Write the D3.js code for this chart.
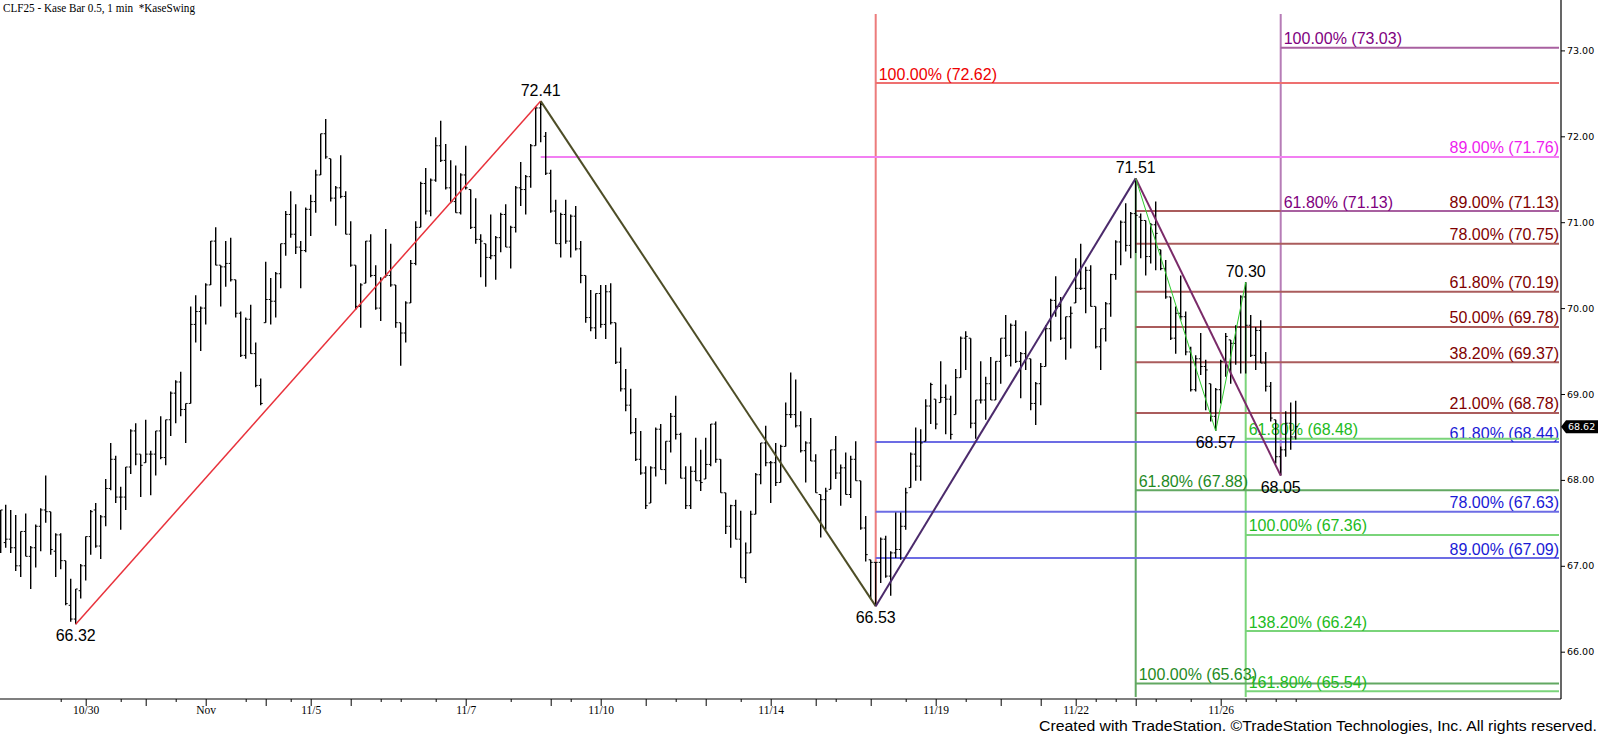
<!DOCTYPE html>
<html>
<head>
<meta charset="utf-8">
<script src="https://cdn.jsdelivr.net/npm/d3@7"></script>
<style>
  html, body { margin: 0; padding: 0; background: #fff; }
  svg { display: block; }
</style>
</head>
<body>
<svg id="chart"></svg>
<script>
// one entry per Kase bar, bar 1 is the leftmost
const highs = [
  67.65,67.71,67.65,67.59,67.40,67.61,67.23,67.48,67.67,68.05,67.63,67.38,67.38,67.06,66.85,66.73,67.02,67.34,67.65,67.73,
  67.59,68.01,68.43,68.28,67.92,68.15,68.59,68.66,68.30,68.70,68.34,68.57,68.74,68.70,69.03,69.16,69.26,68.89,70.02,70.15,
  70.02,70.29,70.78,70.94,70.50,70.78,70.82,70.33,69.96,69.89,70.04,69.60,69.18,70.54,70.35,70.42,70.75,71.13,71.36,71.21,
  70.78,71.17,71.32,71.61,72.03,72.20,71.74,71.42,71.78,71.36,71.01,70.50,70.29,70.78,70.86,70.50,70.36,70.92,70.75,70.27,
  69.83,70.08,70.56,71.01,71.47,71.63,71.51,71.99,72.18,71.91,71.72,71.66,71.57,71.89,71.38,71.28,70.86,70.75,71.09,70.84,
  71.11,71.21,70.96,71.42,71.70,71.55,71.91,72.35,72.41,72.05,71.61,71.26,71.11,71.26,71.09,71.19,70.78,70.38,70.21,70.17,
  70.27,70.27,70.29,69.83,69.54,69.29,69.06,68.72,68.57,68.16,68.16,68.61,68.65,68.45,68.78,68.98,68.55,68.16,68.16,68.49,
  68.35,68.49,68.65,68.68,68.24,67.85,67.71,67.77,67.64,67.27,67.64,68.08,68.43,68.63,68.22,68.43,68.41,68.90,69.25,69.17,
  68.80,68.45,68.72,68.30,67.83,67.91,68.35,68.51,68.18,68.32,68.28,68.45,67.99,67.58,67.07,67.04,67.33,67.35,67.17,67.62,
  67.62,67.91,68.32,68.61,68.59,68.94,69.13,68.94,69.38,69.11,68.98,69.29,69.67,69.73,69.65,68.93,69.38,69.20,69.43,69.38,
  69.65,69.92,69.82,69.86,69.49,69.73,69.41,69.14,69.36,69.80,70.11,70.37,70.13,69.90,70.02,70.58,70.75,70.48,70.50,70.02,
  69.76,70.07,70.40,70.79,71.02,71.22,71.12,71.51,71.10,71.02,70.99,71.24,70.68,70.56,70.13,70.02,70.38,69.96,69.55,69.45,
  69.71,69.40,69.12,69.07,69.40,69.71,69.63,69.80,70.15,70.30,69.92,69.78,69.86,69.49,69.14,68.70,68.39,68.80,68.90,68.92
];
const lows = [
  67.15,67.21,67.15,66.94,66.87,67.11,66.73,66.98,67.17,67.50,67.13,66.87,66.96,66.54,66.35,66.32,66.62,66.83,67.13,67.21,
  67.08,67.46,67.88,67.73,67.42,67.65,68.07,68.17,67.80,68.20,67.82,68.05,68.24,68.17,68.51,68.66,68.74,68.43,68.89,69.60,
  69.50,69.81,70.27,70.50,70.02,70.25,70.31,69.89,69.43,69.41,69.47,69.08,68.87,69.83,69.81,69.89,70.23,70.61,70.82,70.63,
  70.23,70.65,70.84,71.11,71.55,71.74,71.24,70.96,71.28,70.86,70.48,69.98,69.77,70.29,70.36,69.98,69.85,70.36,70.25,69.77,
  69.33,69.60,70.06,70.50,70.94,71.09,71.07,71.47,71.70,71.38,71.22,71.11,71.09,71.38,70.92,70.75,70.36,70.25,70.57,70.33,
  70.65,70.71,70.46,70.88,71.19,71.09,71.40,71.89,71.93,71.55,71.11,70.75,70.59,70.75,70.59,70.67,70.29,69.83,69.73,69.64,
  69.77,69.64,69.81,69.35,69.03,68.80,68.53,68.22,68.06,67.66,67.73,68.04,68.12,67.95,68.32,68.47,68.02,67.66,67.66,67.99,
  67.87,68.01,68.16,68.20,67.85,67.37,67.21,67.31,66.86,66.80,67.15,67.60,67.95,68.16,67.73,67.93,67.97,68.39,68.72,68.61,
  68.32,67.97,68.22,67.85,67.33,67.42,67.89,68.01,67.70,67.83,67.79,67.99,67.42,67.05,66.61,66.53,66.80,66.86,66.65,67.09,
  67.07,67.42,67.91,67.99,67.99,68.45,68.65,68.59,68.90,68.53,68.47,68.76,69.19,69.28,68.60,68.48,68.89,68.70,68.93,68.93,
  69.12,69.43,69.32,69.36,68.95,69.28,68.81,68.64,68.87,69.32,69.61,69.90,69.63,69.40,69.53,70.06,70.21,69.94,70.02,69.53,
  69.28,69.61,69.90,70.33,70.50,70.66,70.58,70.64,70.58,70.38,70.52,70.44,70.44,70.11,69.63,69.47,69.86,69.45,69.03,69.03,
  69.22,68.81,68.68,68.57,68.89,69.20,69.12,69.34,69.24,69.24,69.43,69.28,69.36,69.03,68.68,68.19,68.05,68.27,68.35,68.47
];
const opens = [
  67.50,67.27,67.31,67.21,67.00,67.40,67.11,67.21,67.46,67.65,67.63,67.17,67.36,67.06,66.54,66.38,66.71,67.00,67.34,67.65,
  67.23,67.57,67.90,68.24,67.80,67.80,68.15,68.57,68.30,68.20,68.30,68.30,68.57,68.26,68.70,69.01,69.14,68.82,68.89,69.81,
  69.96,70.00,70.27,70.78,70.50,70.48,70.52,70.33,69.94,69.45,69.87,69.47,69.10,69.83,70.10,70.08,70.40,70.75,71.09,70.86,
  70.71,70.67,71.15,71.24,71.55,72.03,71.74,71.28,71.40,71.30,70.86,70.50,70.02,70.29,70.78,70.38,70.00,70.36,70.38,70.27,
  69.83,69.71,70.06,70.52,70.94,71.45,71.13,71.49,71.89,71.72,71.40,71.24,71.11,71.55,71.38,70.94,70.80,70.75,70.59,70.61,
  70.82,71.09,70.71,70.94,71.40,71.38,71.53,71.89,72.33,72.00,71.57,71.13,70.75,71.09,70.78,71.07,70.69,70.38,69.89,69.77,
  70.17,69.81,70.19,69.83,69.37,69.06,68.87,68.55,68.24,68.08,67.73,68.14,68.59,68.12,68.45,68.74,68.53,68.02,67.70,68.10,
  67.99,68.01,68.18,68.65,68.24,67.85,67.46,67.70,67.31,66.86,67.15,67.60,68.06,68.43,68.20,68.20,67.97,68.39,68.76,68.76,
  68.63,68.34,68.43,68.22,67.83,67.77,67.89,68.35,68.08,68.14,67.83,68.24,67.99,67.44,67.07,67.04,67.04,67.31,66.88,67.15,
  67.19,67.46,67.91,68.30,68.16,68.45,68.86,68.94,68.90,68.96,68.94,68.76,69.19,69.65,69.65,68.66,68.93,68.93,69.12,68.93,
  69.38,69.65,69.45,69.80,69.38,69.47,69.41,68.89,69.12,69.32,69.76,70.09,70.02,69.65,69.90,70.06,70.23,70.23,70.44,70.02,
  69.55,69.76,70.05,70.39,70.77,71.00,70.73,71.10,71.06,71.02,70.60,70.97,70.68,70.46,70.13,69.65,69.94,69.90,69.49,69.05,
  69.41,69.32,69.12,68.74,69.05,69.38,69.63,69.59,69.78,70.13,69.80,69.45,69.74,69.36,69.09,68.70,68.27,68.35,68.66,68.50
];
const closes = [
  67.65,67.31,67.21,67.00,67.40,67.11,67.21,67.46,67.65,67.63,67.19,67.36,67.06,66.56,66.38,66.73,67.00,67.34,67.63,67.23,
  67.57,67.90,68.24,67.80,67.80,68.15,68.57,68.30,68.17,68.30,68.30,68.57,68.26,68.70,69.01,69.14,68.82,68.89,69.81,69.96,
  70.00,70.27,70.78,70.50,70.48,70.52,70.33,69.94,69.45,69.87,69.47,69.10,68.89,70.10,70.08,70.40,70.75,71.09,70.86,70.71,
  70.67,71.15,71.24,71.55,72.03,71.76,71.28,71.40,71.30,70.86,70.50,70.02,70.27,70.78,70.38,70.00,70.33,70.38,70.27,69.83,
  69.71,70.06,70.52,70.94,71.45,71.13,71.49,71.89,71.72,71.40,71.24,71.11,71.55,71.40,70.94,70.80,70.78,70.59,70.61,70.82,
  71.09,70.71,70.94,71.40,71.38,71.53,71.89,72.33,72.37,71.57,71.13,70.75,71.09,70.78,71.07,70.69,70.38,69.89,69.77,70.17,
  69.81,70.19,69.83,69.37,69.06,68.87,68.55,68.24,68.08,67.70,68.14,68.59,68.12,68.45,68.74,68.53,68.02,67.70,68.10,67.99,
  67.97,68.18,68.65,68.24,67.85,67.46,67.70,67.31,66.86,67.15,67.60,68.06,68.43,68.20,68.20,67.97,68.39,68.76,68.76,68.63,
  68.34,68.43,68.22,67.85,67.77,67.87,68.35,68.08,68.14,67.83,68.24,67.99,67.44,67.13,67.04,67.04,67.31,66.88,67.15,67.19,
  67.46,67.85,68.30,68.16,68.43,68.86,69.11,68.65,68.96,68.94,68.53,69.19,69.65,69.67,68.66,68.93,68.93,69.12,68.93,69.38,
  69.65,69.45,69.80,69.38,69.47,69.41,68.89,69.12,69.32,69.76,70.09,70.02,69.65,69.90,69.94,70.23,70.23,70.44,70.02,69.55,
  69.76,70.05,70.39,70.77,71.00,70.73,71.10,71.08,71.02,70.60,70.97,70.87,70.46,70.13,69.65,69.94,69.90,69.49,69.05,69.41,
  69.32,69.28,68.74,69.05,69.38,69.67,69.59,69.78,70.13,69.80,69.45,69.74,69.36,69.09,68.72,68.27,68.35,68.66,68.50,68.62
];

// KaseSwing turning points: bar number and whether it marks a high or a low
const swingBars = [16, 109, 176, 228, 244, 250, 257];
const swingSides = ["low", "high", "low", "high", "low", "high", "low"];
// legs drawn between swing points (indexes into swingBars)
const swingLegs = [[0, 1], [1, 2], [2, 3], [3, 6], [3, 4], [4, 5]];

// fib / projection levels: percent text and price
const redPct = ["100.00%"];
const redVal = [72.62];
const magentaPct = ["89.00%"];
const magentaVal = [71.76];
const brownPct = ["89.00%", "78.00%", "61.80%", "50.00%", "38.20%", "21.00%"];
const brownVal = [71.13, 70.75, 70.19, 69.78, 69.37, 68.78];
const bluePct = ["61.80%", "78.00%", "89.00%"];
const blueVal = [68.44, 67.63, 67.09];
const purplePct = ["100.00%", "61.80%"];
const purpleVal = [73.03, 71.13];
const darkGreenPct = ["61.80%", "100.00%"];
const darkGreenVal = [67.88, 65.63];
const lightGreenPct = ["61.80%", "100.00%", "138.20%", "161.80%"];
const lightGreenVal = [68.48, 67.36, 66.24, 65.54];

// time axis
const dateLabels = ["10/30", "Nov", "11/5", "11/7", "11/10", "11/14", "11/19", "11/22", "11/26"];
const dateBars = [18, 42, 63, 94, 121, 155, 188, 216, 245];
const sessionTickBars = [30, 54, 71, 111, 130, 142, 164, 175, 201, 209, 228];
const minorTickBars = [13, 25, 36, 50, 59, 77, 81, 88, 103, 115, 136, 149, 168, 182, 194, 220, 224, 232, 239, 250, 256, 260];
const priceTicks = [66, 67, 68, 69, 70, 71, 72, 73];

const W = 1600, H = 739;
const plotRight = 1561, plotBottom = 699, lineEnd = 1559;
const labelFont = "'Liberation Sans', Arial, sans-serif";

const svg = d3.select("#chart")
  .attr("width", W)
  .attr("height", H)
  .style("background", "#fff");

const x = d3.scaleLinear().domain([1, 260]).range([0.7, 0.7 + 259 * 5]);
const y = d3.scaleLinear().domain([66, 73]).range([651.7, 50.4]);

svg.append("defs").append("clipPath").attr("id", "plot")
  .append("rect").attr("x", 0).attr("y", 0).attr("width", plotRight).attr("height", plotBottom);

const plot = svg.append("g").attr("clip-path", "url(#plot)");

function swingPrice(i){
  const b = swingBars[i];
  return swingSides[i] === "high" ? highs[b - 1] : lows[b - 1];
}

// horizontal level lines + their texts
function levels(pcts, vals, fromBar, lineColor, textColor, align){
  const g = plot.append("g");
  g.selectAll("line")
    .data(vals)
    .join("line")
      .attr("x1", x(fromBar))
      .attr("x2", lineEnd)
      .attr("y1", d => y(d))
      .attr("y2", d => y(d))
      .attr("stroke", lineColor)
      .attr("stroke-width", 2);
  g.selectAll("text")
    .data(vals)
    .join("text")
      .attr("x", align === "end" ? lineEnd : x(fromBar) + 3)
      .attr("y", d => y(d) - 3.5)
      .attr("text-anchor", align)
      .attr("fill", textColor)
      .attr("font-family", labelFont)
      .attr("font-size", 16)
      .text((d, i) => `${pcts[i]} (${d.toFixed(2)})`);
}

function vline(bar, yTop, yBottom, color){
  plot.append("line")
    .attr("x1", x(bar)).attr("x2", x(bar))
    .attr("y1", yTop).attr("y2", yBottom)
    .attr("stroke", color)
    .attr("stroke-width", 2);
}

// verticals from the swing points
vline(swingBars[2], 14, y(swingPrice(2)), "#ec7c7c");
vline(swingBars[6], 14, y(swingPrice(6)), "#b67cb6");
vline(swingBars[3], y(swingPrice(3)), plotBottom - 2, "#62a862");
vline(swingBars[5], y(swingPrice(5)), plotBottom - 2, "#7ad47a");

levels(redPct, redVal, swingBars[2], "#ee7070", "#ee0000", "start");
levels(magentaPct, magentaVal, swingBars[1], "#f27ff2", "#ee1cee", "end");
levels(brownPct, brownVal, swingBars[3], "#aa5c5c", "#800000", "end");
levels(bluePct, blueVal, swingBars[2], "#6c6ce4", "#1a1ad6", "end");
levels(purplePct, purpleVal, swingBars[6], "#a860a0", "#800080", "start");
levels(darkGreenPct, darkGreenVal, swingBars[3], "#62a862", "#1f8a1f", "start");
levels(lightGreenPct, lightGreenVal, swingBars[5], "#7ad47a", "#22bb22", "start");

// OHLC bars
const barIdx = d3.range(1, highs.length + 1);
const bars = plot.append("g")
  .attr("stroke", "#000")
  .selectAll("g")
  .data(barIdx)
  .join("g");
bars.append("line")
  .attr("x1", d => x(d)).attr("x2", d => x(d))
  .attr("y1", d => y(highs[d - 1])).attr("y2", d => y(lows[d - 1]))
  .attr("stroke-width", 1.4);
bars.append("line")
  .attr("x1", d => x(d) - 2).attr("x2", d => x(d))
  .attr("y1", d => y(opens[d - 1])).attr("y2", d => y(opens[d - 1]))
  .attr("stroke-width", 1);
bars.append("line")
  .attr("x1", d => x(d)).attr("x2", d => x(d) + 2)
  .attr("y1", d => y(closes[d - 1])).attr("y2", d => y(closes[d - 1]))
  .attr("stroke-width", 1);

// swing legs
const legColors = ["#e8323c", "#4d4d26", "#4b2a6b", "#7a2a68", "#2ecc2e", "#2ecc2e"];
const legWidths = [1.5, 2, 2, 2, 1, 1];
plot.append("g")
  .attr("fill", "none")
  .selectAll("line")
  .data(swingLegs)
  .join("line")
    .attr("x1", d => x(swingBars[d[0]]))
    .attr("y1", d => y(swingPrice(d[0])))
    .attr("x2", d => x(swingBars[d[1]]))
    .attr("y2", d => y(swingPrice(d[1])))
    .attr("stroke", (d, i) => legColors[i])
    .attr("stroke-width", (d, i) => legWidths[i]);

// swing price labels
plot.append("g")
  .selectAll("text")
  .data(d3.range(swingBars.length))
  .join("text")
    .attr("x", i => x(swingBars[i]))
    .attr("y", i => swingSides[i] === "high" ? y(swingPrice(i)) - 5 : y(swingPrice(i)) + 17)
    .attr("text-anchor", "middle")
    .attr("fill", "#000")
    .attr("font-family", labelFont)
    .attr("font-size", 16)
    .text(i => swingPrice(i).toFixed(2));

// frame lines
svg.append("line")
  .attr("x1", plotRight).attr("x2", plotRight)
  .attr("y1", 0).attr("y2", plotBottom)
  .attr("stroke", "#000").attr("stroke-width", 1.2);
svg.append("line")
  .attr("x1", 0).attr("x2", plotRight)
  .attr("y1", plotBottom).attr("y2", plotBottom)
  .attr("stroke", "#000").attr("stroke-width", 1.2);

// price axis
const yAxis = svg.append("g")
  .attr("transform", `translate(${plotRight},0)`)
  .call(d3.axisRight(y).tickValues(priceTicks).tickFormat(d3.format(".2f")).tickSize(4).tickPadding(2));
yAxis.select(".domain").remove();
yAxis.selectAll("text")
  .attr("font-family", "'DejaVu Sans', Verdana, sans-serif")
  .attr("font-size", 9.5)
  .attr("fill", "#000");

// last price marker
const last = closes[closes.length - 1];
const ly = y(last);
svg.append("path")
  .attr("d", `M${plotRight},${ly} L${plotRight + 5},${ly - 6.5} L1598,${ly - 6.5} L1598,${ly + 6.5} L${plotRight + 5},${ly + 6.5} Z`)
  .attr("fill", "#000");
svg.append("text")
  .attr("x", plotRight + 7)
  .attr("y", ly + 3.5)
  .attr("fill", "#fff")
  .attr("font-family", "'DejaVu Sans', Verdana, sans-serif")
  .attr("font-size", 9.5)
  .text(last.toFixed(2));

// time axis
const allTicks = [...dateBars, ...sessionTickBars, ...minorTickBars];
const xAxis = svg.append("g")
  .attr("transform", `translate(0,${plotBottom})`)
  .call(d3.axisBottom(x).tickValues(allTicks).tickSize(3)
    .tickFormat(d => dateBars.includes(d) ? dateLabels[dateBars.indexOf(d)] : ""));
xAxis.select(".domain").remove();
xAxis.selectAll(".tick line")
  .attr("y2", d => (dateBars.includes(d) || sessionTickBars.includes(d)) ? 7 : 3);
xAxis.selectAll(".tick text")
  .attr("y", 7)
  .attr("font-family", "'Liberation Serif', 'Times New Roman', serif")
  .attr("font-size", 11.5)
  .attr("fill", "#000");

// header and footer
svg.append("text")
  .attr("x", 3)
  .attr("y", 12)
  .attr("font-family", "'Liberation Serif', 'Times New Roman', serif")
  .attr("font-size", 12)
  .attr("textLength", 192)
  .attr("lengthAdjust", "spacingAndGlyphs")
  .style("white-space", "pre")
  .text("CLF25 - Kase Bar 0.5, 1 min  *KaseSwing");

svg.append("text")
  .attr("x", 1597)
  .attr("y", 731)
  .attr("text-anchor", "end")
  .attr("font-family", "'Liberation Sans Narrow', 'Arial Narrow', 'Liberation Sans', sans-serif")
  .attr("font-size", 15.5)
  .attr("textLength", 558)
  .attr("lengthAdjust", "spacingAndGlyphs")
  .text("Created with TradeStation. ©TradeStation Technologies, Inc. All rights reserved.");
</script>
</body>
</html>
